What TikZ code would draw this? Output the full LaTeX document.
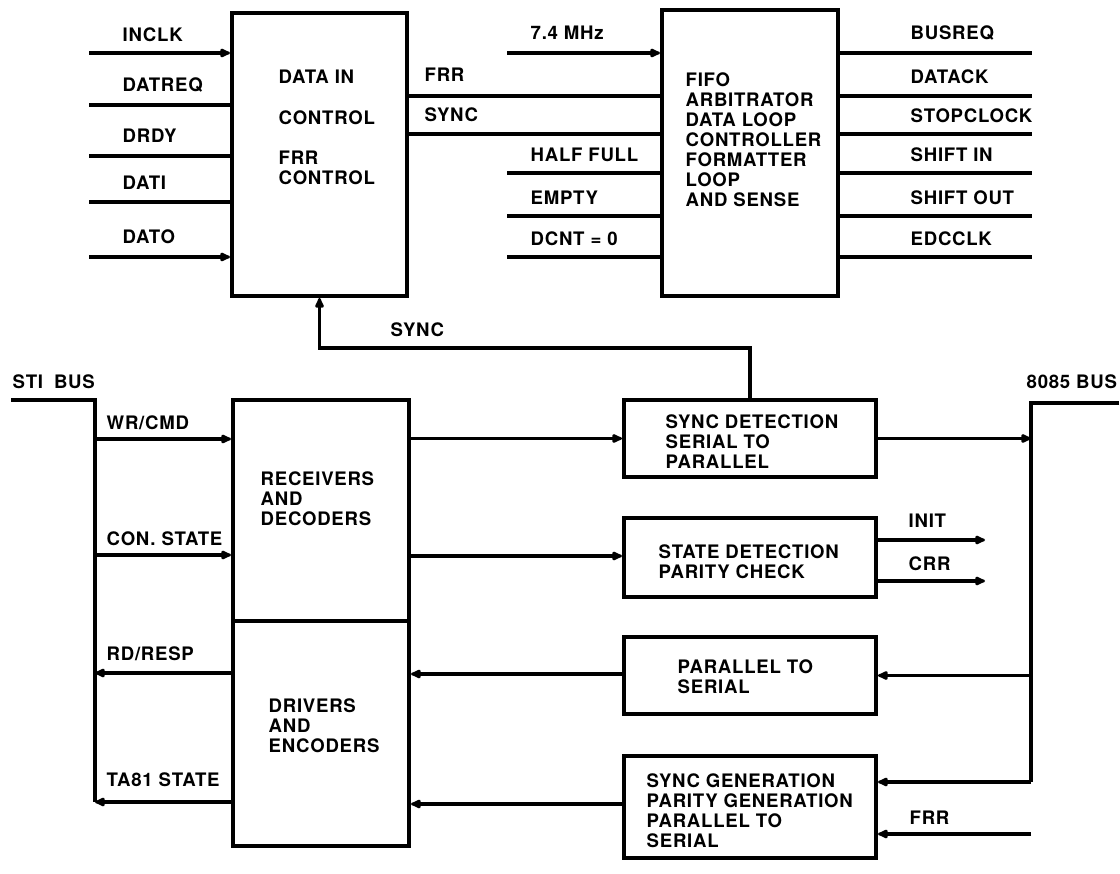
\documentclass[tikz,border=0pt]{standalone}
\usepackage{fontspec}
\setmainfont{TeX Gyre Heros}[LetterSpace=4]
\usepackage{tikz}
\usetikzlibrary{arrows.meta,positioning}

\begin{document}
\begin{tikzpicture}[x=1pt,y=-1pt,line width=3.4pt,
  every node/.style={font=\bfseries\fontsize{18.6}{20}\selectfont,inner sep=0pt},
  blk/.style={draw,line width=4pt},
  lbl/.style={anchor=west,text height=13.4pt,text depth=0pt},
  bt/.style={anchor=north west,align=left},
  arr/.style={-{Latex[length=13pt,width=11pt,round]}}]
\useasboundingbox (0,0) rectangle (1120,874);
% blocks
\node[blk,minimum width=175pt,minimum height=283pt] (din) at (319.5,154.5) {};
\node[blk,minimum width=176pt,minimum height=286pt] (fifo) at (750,153) {};
\node[blk,minimum width=176pt,minimum height=221pt] (rcv) at (321,510.5) {};
\node[blk,minimum width=176pt,minimum height=225pt] (drv) at (321,733.5) {};
\node[blk,minimum width=252pt,minimum height=77pt] (sdet) at (750,438.5) {};
\node[blk,minimum width=252pt,minimum height=79pt] (stdet) at (750,557.5) {};
\node[blk,minimum width=252pt,minimum height=77pt] (pts) at (750,675.5) {};
\node[blk,minimum width=252pt,minimum height=102pt] (sgen) at (750,807) {};
\node[bt] (dintxt) at (277,68) {DATA IN\\[21pt]CONTROL\\[20pt]FRR\\CONTROL};
\node[bt] (fifotxt) at (684,71) {FIFO\\ARBITRATOR\\DATA LOOP\\CONTROLLER\\FORMATTER\\LOOP\\AND SENSE};
\node[bt] (rcvtxt) at (259,470) {RECEIVERS\\AND\\DECODERS};
\node[bt] (drvtxt) at (267,697) {DRIVERS\\AND\\ENCODERS};
\node[bt] (sdettxt) at (664,413) {SYNC DETECTION\\SERIAL TO\\PARALLEL};
\node[bt] (stdettxt) at (657,543) {STATE DETECTION\\PARITY CHECK};
\node[bt] (ptstxt) at (676,658) {PARALLEL TO\\SERIAL};
\node[bt] (sgentxt) at (645,772) {SYNC GENERATION\\PARITY GENERATION\\PARALLEL TO\\SERIAL};
% data in control
\coordinate (inclk) at (89,53); \coordinate (datreq) at (89,105); \coordinate (drdy) at (89,156);
\coordinate (dati) at (89,202); \coordinate (dato) at (89,257);
\draw[arr] (inclk) -- (inclk -| din.west);
\draw (datreq) -- (datreq -| din.west);
\draw (drdy) -- (drdy -| din.west);
\draw (dati) -- (dati -| din.west);
\draw[arr] (dato) -- (dato -| din.west);
\node[lbl] (linclk) at (121,35) {INCLK};\node[lbl] (ldatreq) at (121,85) {DATREQ};
\node[lbl] (ldrdy) at (121,136) {DRDY};\node[lbl] (ldati) at (121,183) {DATI};
\node[lbl] (ldato) at (121,237) {DATO};
\draw (din.east |- 0,96) -- (fifo.west |- 0,96);
\draw (din.east |- 0,134) -- (fifo.west |- 0,134);
\node[lbl] (lfrr) at (423,75) {FRR};\node[lbl] (lsync) at (423,115) {SYNC};
% fifo
\coordinate (mhz) at (507,53); \coordinate (half) at (507,173); \coordinate (empty) at (507,216);
\coordinate (dcnt) at (507,257);
\draw[arr] (mhz) -- (mhz -| fifo.west);
\draw (half) -- (half -| fifo.west);
\draw (empty) -- (empty -| fifo.west);
\draw (dcnt) -- (dcnt -| fifo.west);
\node[lbl] (lmhz) at (529,33) {7.4 MHz};\node[lbl] (lhalf) at (529,155) {HALF FULL};
\node[lbl] (lempty) at (529,198) {EMPTY};\node[lbl] (ldcnt) at (529,239) {DCNT = 0};
\coordinate (busreq) at (1032,53); \coordinate (datack) at (1032,96); \coordinate (stopclk) at (1032,134);
\coordinate (shin) at (1032,173); \coordinate (shout) at (1032,216); \coordinate (edcclk) at (1032,257);
\draw (fifo.east |- busreq) -- (busreq);
\draw (fifo.east |- datack) -- (datack);
\draw (fifo.east |- stopclk) -- (stopclk);
\draw (fifo.east |- shin) -- (shin);
\draw (fifo.east |- shout) -- (shout);
\draw (fifo.east |- edcclk) -- (edcclk);
\node[lbl] (lbusreq) at (909,33) {BUSREQ};\node[lbl] (ldatack) at (909,77) {DATACK};
\node[lbl] (lstopclk) at (909,116) {STOPCLOCK};\node[lbl] (lshin) at (909,155) {SHIFT IN};
\node[lbl] (lshout) at (909,198) {SHIFT OUT};\node[lbl] (ledcclk) at (909,239) {EDCCLK};
% sync feedback
\draw[arr] (sdet.north) |- (din.south |- 0,348) -- (din.south);
\node[lbl] (lsyncfb) at (389,330) {SYNC};
% sti bus
\coordinate (sti) at (11,400); \coordinate (stitop) at (95,400); \coordinate (wr) at (95,439);
\coordinate (con) at (95,555); \coordinate (rdr) at (95,673); \coordinate (ta) at (95,802);
\draw (sti) -- (stitop) -- (ta);
\draw[arr] (wr) -- (wr -| rcv.west);
\draw[arr] (con) -- (con -| rcv.west);
\draw[arr] (drv.west |- rdr) -- (rdr);
\draw[arr] (drv.west |- ta) -- (ta);
\node[lbl] (lsti) at (11,382) {STI\hspace{11pt}BUS};
\node[lbl] (lwr) at (105,423) {WR/CMD};\node[lbl] (lcon) at (105,539) {CON. STATE};
\node[lbl] (lrdr) at (105,654) {RD/RESP};\node[lbl] (lta) at (105,780) {TA81 STATE};
% middle
\draw[arr] (rcv.east |- sdet.west) -- (sdet.west);
\draw[arr] (rcv.east |- 0,556) -- (stdet.west |- 0,556);
\draw[arr] (pts.west |- 0,674) -- (drv.east |- 0,674);
\draw[arr] (sgen.west |- 0,804) -- (drv.east |- 0,804);
% 8085 bus
\coordinate (hbus) at (1119,403); \coordinate (hcorner) at (1031,403); \coordinate (hbot) at (1031,782);
\draw (hbus) -- (hcorner) -- (hbot);
\draw[arr] (sdet.east) -- (sdet.east -| hcorner);
\draw[arr] (hcorner |- pts.east) -- (pts.east);
\draw[arr] (hbot) -- (hbot -| sgen.east);
\coordinate (frrin) at (1031,834); \draw[arr] (frrin) -- (frrin -| sgen.east);
\coordinate (init) at (985,540); \coordinate (crr) at (985,581);
\draw[arr] (init -| stdet.east) -- (init);
\draw[arr] (crr -| stdet.east) -- (crr);
\node[lbl] (lhbus) at (1025,382) {8085 BUS};
\node[lbl] (linit) at (907,521) {INIT};\node[lbl] (lcrr) at (907,564) {CRR};
\node[lbl] (lfrrin) at (908,818) {FRR};
\end{tikzpicture}
\end{document}
